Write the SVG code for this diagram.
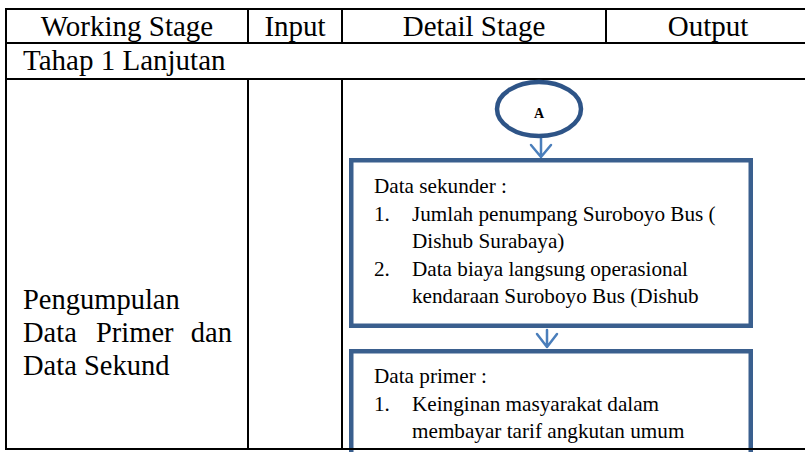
<svg xmlns="http://www.w3.org/2000/svg" width="805" height="452" viewBox="0 0 805 452">
<style>
.t{font-family:"Liberation Serif","Times New Roman",serif;fill:#000}
.h{font-size:29px;text-anchor:middle}
.l{font-size:28.5px}
.b{font-size:21.2px}
.grid{stroke:#000;stroke-width:2;fill:none}
.box{fill:#fff;stroke:#3a5f8e;stroke-width:4.5}
.arr{stroke:#4a7ebb;stroke-width:2.5;fill:none;stroke-linecap:round;stroke-linejoin:round}
</style>
<rect width="805" height="452" fill="#fff"/>
<g id="table" class="grid">
<line x1="6" y1="9" x2="805" y2="9"/>
<line x1="6" y1="43" x2="805" y2="43"/>
<line x1="6" y1="79" x2="805" y2="79"/>
<line x1="6" y1="8" x2="6" y2="450"/>
<line x1="248" y1="9" x2="248" y2="43"/>
<line x1="342" y1="9" x2="342" y2="43"/>
<line x1="606" y1="9" x2="606" y2="43"/>
<line x1="248" y1="79" x2="248" y2="449"/>
<line x1="342" y1="79" x2="342" y2="449"/>
</g>
<g id="header">
<text class="t h" x="127" y="36">Working Stage</text>
<text class="t h" x="295" y="36">Input</text>
<text class="t h" x="474" y="36">Detail Stage</text>
<text class="t h" x="708" y="36">Output</text>
<text class="t" x="23" y="70" font-size="29">Tahap 1 Lanjutan</text>
</g>
<g id="working-stage">
<text class="t l" x="23" y="309">Pengumpulan</text>
<text class="t l" y="342"><tspan x="23">Data</tspan><tspan x="96">Primer</tspan><tspan x="232" text-anchor="end">dan</tspan></text>
<text class="t l" x="23" y="375">Data Sekund</text>
</g>
<g id="connectors">
<path class="arr" d="M541 138 V157 M531 145 L541 157 L551 145"/>
<path class="arr" d="M547 330 V347 M537 334 L547 347 L557 334"/>
</g>
<g id="node-A">
<ellipse cx="539" cy="109" rx="42" ry="27" fill="#fff" stroke="#2e5487" stroke-width="4.5"/>
<text class="t" x="539" y="118" font-size="14" font-weight="bold" text-anchor="middle">A</text>
</g>
<g id="node-sekunder">
<rect class="box" x="351.25" y="160.25" width="399.5" height="165.5"/>
<text class="t b" x="374" y="193">Data sekunder :</text>
<text class="t b" x="374" y="221">1.</text>
<text class="t b" x="412" y="221">Jumlah penumpang Suroboyo Bus (</text>
<text class="t b" x="412" y="248">Dishub Surabaya)</text>
<text class="t b" x="374" y="276">2.</text>
<text class="t b" x="412" y="276">Data biaya langsung operasional</text>
<text class="t b" x="412" y="303">kendaraan Suroboyo Bus (Dishub</text>
</g>
<g id="node-primer">
<rect class="box" x="351.25" y="351.25" width="399.5" height="120"/>
<text class="t b" x="374" y="383">Data primer :</text>
<text class="t b" x="374" y="411">1.</text>
<text class="t b" x="412" y="411">Keinginan masyarakat dalam</text>
<text class="t b" x="412" y="438">membayar tarif angkutan umum</text>
</g>
<line x1="6" y1="449" x2="805" y2="449" stroke="#000" stroke-width="2"/>
</svg>
